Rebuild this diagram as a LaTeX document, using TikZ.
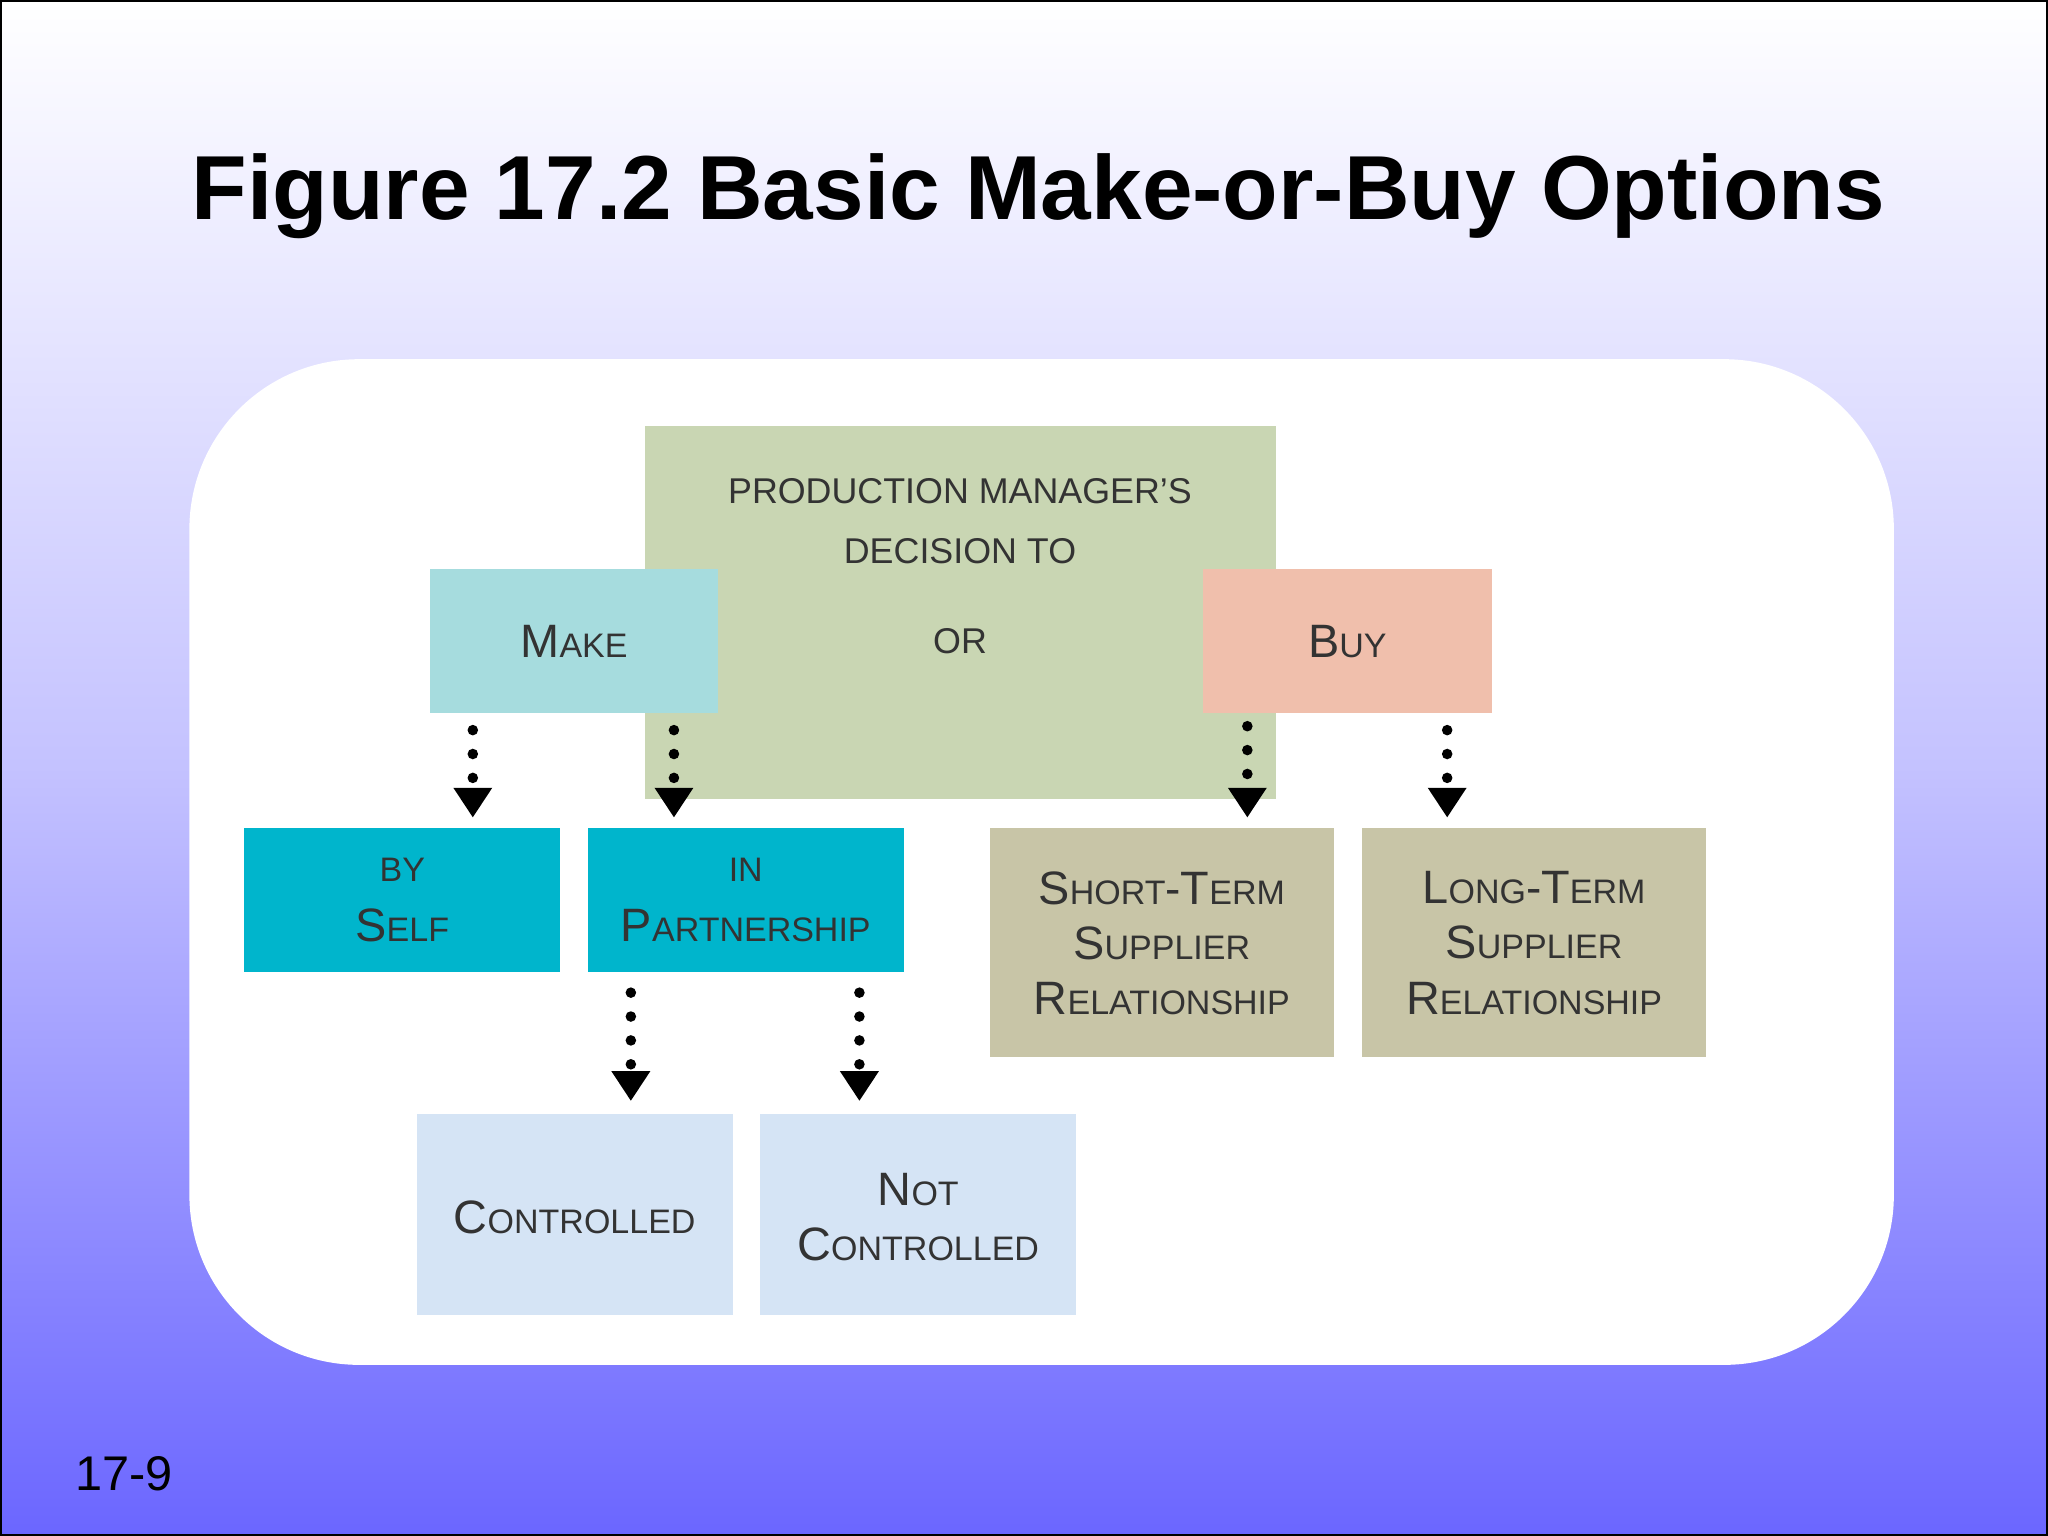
\documentclass[tikz,border=0pt]{standalone}
\usepackage{fontspec}
\setmainfont{Liberation Sans}
\usetikzlibrary{arrows.meta}
\newcommand\SC[2]{{\fontsize{10.2}{11.5}\selectfont #1}{\fontsize{7.4}{11.5}\selectfont #2}}
\definecolor{bgbot}{HTML}{6B66FF}
\definecolor{cgreen}{HTML}{C9D6B3}
\definecolor{cmake}{HTML}{A6DCDE}
\definecolor{cbuy}{HTML}{F0BFAC}
\definecolor{cteal}{HTML}{00B5CC}
\definecolor{ctan}{HTML}{C8C5A7}
\definecolor{cpale}{HTML}{D5E4F5}
\definecolor{ctext}{HTML}{333333}
\tikzset{
 lbl/.style={text=ctext,align=center,inner sep=0pt},
 darr/.style={line width=2.3pt,dash pattern=on 0pt off 5.2pt,line cap=round,
   -{Triangle[width=8pt,length=6.5pt,line cap=butt]}},
}
\begin{document}
\begin{tikzpicture}[x=0.01cm,y=-0.01cm]
\useasboundingbox (0,0) rectangle (1568,1176);
\shade[top color=white,bottom color=bgbot,middle color=white!60!bgbot] (0,0) rectangle (1568,1176);
\draw[line width=0.8pt] (0,0) rectangle (1568,1176);
\node[font=\bfseries\fontsize{19.8}{24}\selectfont] (title) at (795,150) {Figure 17.2 Basic Make-or-Buy Options};
\node[font=\fontsize{10.6}{13}\selectfont,anchor=west,inner sep=0pt] (num) at (57,1128) {17-9};
\fill[white,rounded corners=1.3cm] (145,275) rectangle (1450,1045);
% boxes
\fill[cgreen] (494,326) rectangle (977,612);
\node (dec) at (735,399) [lbl,font=\fontsize{7.8}{13}\selectfont] {PRODUCTION MANAGER'S\\DECISION TO};
\node (or) at (735,491) [lbl,font=\fontsize{7.8}{10}\selectfont] {OR};
\fill[cmake] (329,436) rectangle (550,546);
\node (make) at (439.5,491) [lbl] {\SC{M}{AKE}};
\fill[cbuy] (921,436) rectangle (1142,546);
\node (buy) at (1031.5,491) [lbl] {\SC{B}{UY}};
\fill[cteal] (187,634) rectangle (429,744);
\node (self) at (308,689) [lbl] {\fontsize{7.4}{11}\selectfont BY\\[1pt]\SC{S}{ELF}};
\fill[cteal] (450,634) rectangle (692,744);
\node (part) at (571,689) [lbl] {\fontsize{7.4}{11}\selectfont IN\\[1pt]\SC{P}{ARTNERSHIP}};
\fill[ctan] (758,634) rectangle (1021,809);
\node (short) at (889.5,722) [lbl] {\SC{S}{HORT}-\SC{T}{ERM}\\\SC{S}{UPPLIER}\\\SC{R}{ELATIONSHIP}};
\fill[ctan] (1043,634) rectangle (1306,809);
\node (long) at (1174.5,722) [lbl] {\SC{L}{ONG}-\SC{T}{ERM}\\\SC{S}{UPPLIER}\\\SC{R}{ELATIONSHIP}};
\fill[cpale] (319,853) rectangle (561,1007);
\node (ctrl) at (440,932) [lbl] {\SC{C}{ONTROLLED}};
\fill[cpale] (582,853) rectangle (824,1007);
\node (nctrl) at (703,932) [lbl] {\SC{N}{OT}\\\SC{C}{ONTROLLED}};
% arrows
\coordinate (a1) at (362,559); \coordinate (b1) at (362,626);
\coordinate (a2) at (516,559); \coordinate (b2) at (516,626);
\coordinate (a3) at (955,556); \coordinate (b3) at (955,626);
\coordinate (a4) at (1108,559); \coordinate (b4) at (1108,626);
\coordinate (a5) at (483,760); \coordinate (b5) at (483,843);
\coordinate (a6) at (658,760); \coordinate (b6) at (658,843);
\foreach \i in {1,...,6} \draw[darr] (a\i) -- (b\i);
\end{tikzpicture}
\end{document}
